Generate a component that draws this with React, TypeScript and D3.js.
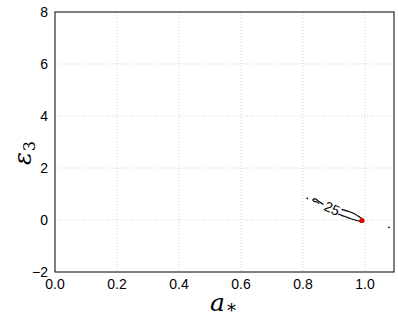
import React from 'react';
import * as d3 from 'd3';

// axis ticks
const xTicks = [0, 0.2, 0.4, 0.6, 0.8, 1.0];
const yTicks = [-2, 0, 2, 4, 6, 8];

// contour level 25, split by its label
const contourLeft: [number, number][] = [
  [0.866, 0.6], [0.855, 0.68], [0.846, 0.76], [0.839, 0.81],
  [0.832, 0.79], [0.835, 0.72], [0.843, 0.7], [0.852, 0.63],
];
const contourRight: [number, number][] = [
  [0.924, 0.41], [0.944, 0.34], [0.964, 0.25], [0.984, 0.1], [0.993, 0.02],
  [0.985, -0.04], [0.97, -0.01], [0.945, 0.09], [0.925, 0.18], [0.913, 0.23],
];
const contourLabel = { a: 0.892, e: 0.4, text: '25' };

// marked points
const redPoint: [number, number] = [0.99, -0.02];
const strayDots: [number, number][] = [[0.814, 0.83], [1.077, -0.28]];

const W = 398, H = 327;
const left = 55, right = 394, top = 12, bottom = 272;

export default function App() {
  const x = d3.scaleLinear().domain([0, 1.0935]).range([left, right]);
  const y = d3.scaleLinear().domain([-2, 8]).range([bottom, top]);
  const line = d3.line<[number, number]>()
    .x(d => x(d[0])).y(d => y(d[1]))
    .curve(d3.curveCatmullRom);

  return (
    <svg width={W} height={H} style={{ position: 'absolute', left: 0, top: 0, background: '#fff' }}>
      {xTicks.filter(t => t > 0).map(t => (
        <line key={'gx' + t} x1={x(t)} x2={x(t)} y1={top} y2={bottom}
          stroke="#c8c8c8" strokeWidth={0.8} strokeDasharray="1,2" />
      ))}
      {yTicks.filter(t => t > -2 && t < 8).map(t => (
        <line key={'gy' + t} x1={left} x2={right} y1={y(t)} y2={y(t)}
          stroke="#c8c8c8" strokeWidth={0.8} strokeDasharray="1,2" />
      ))}

      <path d={line(contourLeft) || ''} fill="none" stroke="#000" strokeWidth={1.2} />
      <path d={line(contourRight) || ''} fill="none" stroke="#000" strokeWidth={1.2} />
      <text x={x(contourLabel.a)} y={y(contourLabel.e)} fontFamily="Liberation Sans, Arial, sans-serif" fontSize={14}
        textAnchor="middle" dominantBaseline="middle"
        transform={`rotate(24 ${x(contourLabel.a)} ${y(contourLabel.e)})`}>{contourLabel.text}</text>

      {strayDots.map((d, i) => (
        <circle key={i} cx={x(d[0])} cy={y(d[1])} r={0.9} fill="#000" />
      ))}
      <circle cx={x(redPoint[0])} cy={y(redPoint[1])} r={2.6} fill="#e00000" />

      <rect x={left} y={top} width={right - left} height={bottom - top} fill="none" stroke="#000" strokeWidth={1} />

      {xTicks.map(t => (
        <text key={'xt' + t} x={x(t)} y={bottom + 17} textAnchor="middle"
          fontFamily="Liberation Sans, Arial, sans-serif" fontSize={14}>{t.toFixed(1)}</text>
      ))}
      {yTicks.map(t => (
        <text key={'yt' + t} x={left - 7} y={y(t) + 5} textAnchor="end"
          fontFamily="Liberation Sans, Arial, sans-serif" fontSize={14}>{t < 0 ? '\u2212' + Math.abs(t) : t}</text>
      ))}

      <text x={210} y={311} fontFamily="DejaVu Serif, serif" fontStyle="italic" fontSize={25}>
        a<tspan dx={2} dy={6} fontStyle="normal" fontSize={18}>*</tspan>
      </text>
      <text transform="translate(31,153) rotate(-90)" textAnchor="middle" fontFamily="DejaVu Serif, serif"
        fontStyle="italic" fontSize={24}>
        ε<tspan dy={4} dx={1} fontStyle="normal" fontSize={16}>3</tspan>
      </text>
    </svg>
  );
}
